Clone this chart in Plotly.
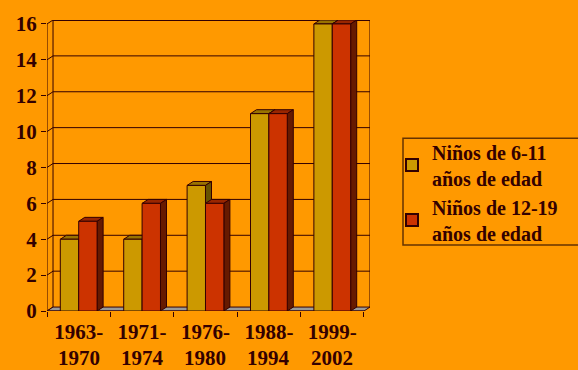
import plotly.graph_objects as go

periods_start = ["1963-", "1971-", "1976-", "1988-", "1999-"]
periods_end = ["1970", "1974", "1980", "1994", "2002"]
series_names = ["Niños de 6-11<br>años de edad", "Niños de 12-19<br>años de edad"]
kids_6_11 = [4, 4, 7, 11, 16]
kids_12_19 = [5, 6, 6, 11, 16]
y_ticks = [0, 2, 4, 6, 8, 10, 12, 14, 16]

BG = "#FF9900"
INK = "#330000"
FONT = "Liberation Serif, Times New Roman, serif"
front_cols = ["#CC9900", "#CC3300"]
top_cols = ["#997300", "#992600"]
side_cols = ["#665200", "#661A00"]

n = len(periods_start)
x = list(range(n))
bargap = 0.42
w = (1 - bargap) / 2
dx, dy = 0.095, 0.22   # depth offset in axis units
ymax = max(y_ticks)

fig = go.Figure()
for k, vals in enumerate([kids_6_11, kids_12_19]):
    fig.add_trace(go.Bar(
        x=x, y=vals, name=series_names[k],
        marker=dict(color=front_cols[k], line=dict(color=INK, width=1)),
        hoverinfo="skip",
    ))

shapes = []
ln = dict(color=INK, width=1)
# back wall grid lines and left side wall diagonals
for v in y_ticks:
    if v > 0:
        shapes.append(dict(type="line", xref="x", yref="y", layer="below",
                           x0=-0.5 + dx, x1=n - 0.5 + dx, y0=v + dy, y1=v + dy,
                           line=dict(color=INK, width=2 if v == ymax else 1)))
    shapes.append(dict(type="line", xref="x", yref="y", layer="below",
                       x0=-0.5, x1=-0.5 + dx, y0=v, y1=v + dy, line=ln))
# back wall edges
for xe in (-0.5 + dx, n - 0.5 + dx):
    shapes.append(dict(type="line", xref="x", yref="y", layer="below",
                       x0=xe, x1=xe, y0=dy, y1=ymax + dy, line=ln))
# floor
shapes.append(dict(type="path", xref="x", yref="y", layer="below",
                   path=f"M {-0.5},0 L {n-0.5},0 L {n-0.5+dx},{dy} L {-0.5+dx},{dy} Z",
                   fillcolor="#999999", line=ln))
# front axis lines
shapes.append(dict(type="line", xref="x", yref="y", layer="below",
                   x0=-0.5, x1=-0.5, y0=0, y1=ymax, line=ln))
shapes.append(dict(type="line", xref="x", yref="y", layer="below",
                   x0=-0.5, x1=n - 0.5, y0=0, y1=0, line=ln))

# 3D faces of bars
for i in range(n):
    for k, vals in enumerate([kids_6_11, kids_12_19]):
        v = vals[i]
        x0 = i - w + k * w
        x1 = x0 + w
        shapes.append(dict(type="path", xref="x", yref="y", layer="below",
                           path=f"M {x0},{v} L {x1},{v} L {x1+dx},{v+dy} L {x0+dx},{v+dy} Z",
                           fillcolor=top_cols[k], line=ln))
        shapes.append(dict(type="path", xref="x", yref="y", layer="below",
                           path=f"M {x1},0 L {x1},{v} L {x1+dx},{v+dy} L {x1+dx},{dy} Z",
                           fillcolor=side_cols[k], line=ln))

# legend border
shapes.append(dict(type="rect", xref="paper", yref="paper",
                   x0=(403 - 47) / 323, x1=(590 - 47) / 323,
                   y0=(311 - 244) / 295, y1=(311 - 136) / 295,
                   line=dict(color="#663300", width=1.5)))

annotations = []
for i in range(n):
    annotations.append(dict(x=i, y=0, xref="x", yref="paper", yshift=-33,
                            text=periods_end[i], showarrow=False, yanchor="top",
                            font=dict(family=FONT, size=21, color=INK)))

fig.update_layout(
    width=578, height=370,
    margin=dict(l=47, r=208, t=16, b=59),
    paper_bgcolor=BG, plot_bgcolor=BG,
    barmode="group", bargap=bargap, bargroupgap=0,
    shapes=shapes, annotations=annotations,
    font=dict(family=FONT, size=21, color=INK, weight="bold"),
    showlegend=True,
    legend=dict(x=(392 - 47) / 323, y=(311 - 130) / 295, xanchor="left", yanchor="top",
                bgcolor="rgba(0,0,0,0)", borderwidth=0,
                font=dict(family=FONT, size=20, color=INK, weight="bold"),
                tracegroupgap=0, itemsizing="constant"),
    xaxis=dict(range=[-0.5, n - 0.5 + dx], tickmode="array", tickvals=x,
               ticktext=periods_start, ticks="", showgrid=False, zeroline=False,
               showline=False, ticklabelstandoff=6,
               tickfont=dict(family=FONT, size=21, color=INK, weight="bold"),
               minor=dict(tickmode="array", tickvals=[i - 0.5 for i in range(n + 1)],
                          ticks="outside", ticklen=5, tickcolor=INK, tickwidth=1,
                          showgrid=False)),
    yaxis=dict(range=[0, ymax + dy], tickmode="array", tickvals=y_ticks,
               ticks="outside", ticklen=5, tickcolor=INK, showgrid=False,
               zeroline=False, showline=False,
               tickfont=dict(family=FONT, size=21, color=INK, weight="bold")),
)

fig.write_html("out.html")
